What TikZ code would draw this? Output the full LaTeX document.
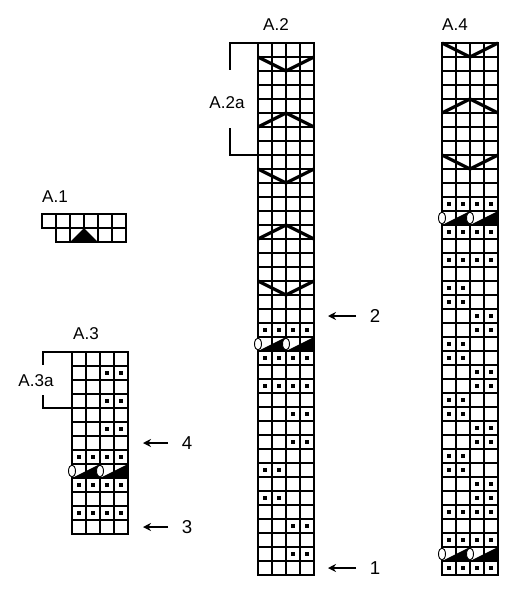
\documentclass[tikz,border=0pt]{standalone}
\usepackage{fontspec}
\setmainfont{Liberation Sans}
\usetikzlibrary{arrows.meta}

\tikzset{
    cell/.style={line width=0.8pt},
    frame/.style={line width=1pt},
    chev/.style={line width=2.4pt},
    yo/.style={draw, fill=white, line width=0.7pt},
    brace/.style={line width=1.3pt},
    chartname/.style={font=\fontsize{12.8}{14}\selectfont, inner sep=0pt, anchor=base},
    rownum/.style={font=\fontsize{14}{15}\selectfont, inner sep=0pt},
    rowarrow/.style={line width=1pt, -{Stealth[length=6pt,width=6pt,inset=2pt]}},
}

\newcommand{\kgrid}[2]{%
    \foreach \kc in {1,...,#1} {%
        \foreach \kr in {1,...,#2} {\draw[cell] (\kc-1,\kr-1) rectangle (\kc,\kr);}}
    \draw[frame] (0,0) rectangle (#1,#2);}
\newcommand{\kdots}[2]{%
    \foreach \kc in {#1} {\fill (\kc-0.5,#2-0.5) +(-0.15,-0.15) rectangle +(0.15,0.15);}}
\newcommand{\kyo}[1]{%
    \fill (0,#1) -- (2,#1-1) -- (2,#1) -- cycle;
    \fill (2,#1) -- (4,#1-1) -- (4,#1) -- cycle;
    \draw[yo] (0,#1-0.5) ellipse [x radius=2.6pt, y radius=4.5pt];
    \draw[yo] (2,#1-0.5) ellipse [x radius=2.6pt, y radius=4.5pt];}
\newcommand{\kvee}[1]{\draw[chev] (0,#1-1) -- (2,#1) -- (4,#1-1);}
\newcommand{\khat}[1]{\draw[chev] (0,#1) -- (2,#1-1) -- (4,#1);}

\begin{document}
\begin{tikzpicture}[x=0.75pt, y=-0.75pt]
                \useasboundingbox (0,0) rectangle (524,600);

                \node[chartname] (a1) at (55,202) {A.1};
                \foreach \kc in {0,...,5} {\draw[cell] (42+14*\kc,214) rectangle ++(14,14);}
                \foreach \kc in {1,...,5} {\draw[cell] (42+14*\kc,228) rectangle ++(14,14);}
                \fill (70,242) -- (84,228) -- (98,242) -- cycle;

                \node[chartname] (a3) at (86,339) {A.3};
                \begin{scope}[shift={(72,352)}, x=10.5pt, y=-10.5pt]
                    \kgrid{4}{13}
                    \foreach \kr in {2,4,6} {\kdots{3,4}{\kr}}
                    \foreach \kr in {8,10,12} {\kdots{1,2,3,4}{\kr}}
                    \kyo{9}
                \end{scope}
                \node[chartname, anchor=center] (a3a) at (36,381) {A.3a};
                \draw[brace] (72,352) -| (43,365);
                \draw[brace] (43,395) |- (72,408);

                \node[chartname] (a2) at (276,30) {A.2};
                \begin{scope}[shift={(258,43)}, x=10.5pt, y=-10.5pt]
                    \kgrid{4}{38}
                    \foreach \kr in {2,10,18} {\kvee{\kr}}
                    \foreach \kr in {6,14} {\khat{\kr}}
                    \foreach \kr in {21,23,25} {\kdots{1,2,3,4}{\kr}}
                    \foreach \kr in {27,29,35,37} {\kdots{3,4}{\kr}}
                    \foreach \kr in {31,33} {\kdots{1,2}{\kr}}
                    \kyo{22}
                \end{scope}
                \node[chartname, anchor=center] (a2a) at (227,103) {A.2a};
                \draw[brace] (258,43) -| (230,70);
                \draw[brace] (230,128) |- (258,155);

                \node[chartname] (a4) at (455,30) {A.4};
                \begin{scope}[shift={(442,43)}, x=10.5pt, y=-10.5pt]
                    \kgrid{4}{38}
                    \kvee{1}
                    \khat{5}
                    \kvee{9}
                    \foreach \kr in {12,14,16,34,36,38} {\kdots{1,2,3,4}{\kr}}
                    \foreach \kr in {18,19,22,23,26,27,30,31} {\kdots{1,2}{\kr}}
                    \foreach \kr in {20,21,24,25,28,29,32,33} {\kdots{3,4}{\kr}}
                    \kyo{13}
                    \kyo{37}
                \end{scope}

                \coordinate (t1) at (356,568);
                \coordinate (h1) at (328,568);
                \node[rownum] (n1) at (375,568) {1};
                \draw[rowarrow] (t1) -- (h1);
                \coordinate (t2) at (356,316);
                \coordinate (h2) at (328,316);
                \node[rownum] (n2) at (375,316) {2};
                \draw[rowarrow] (t2) -- (h2);
                \coordinate (t3) at (168,527);
                \coordinate (h3) at (143,527);
                \node[rownum] (n3) at (187,527) {3};
                \draw[rowarrow] (t3) -- (h3);
                \coordinate (t4) at (168,443);
                \coordinate (h4) at (143,443);
                \node[rownum] (n4) at (187,443) {4};
                \draw[rowarrow] (t4) -- (h4);
\end{tikzpicture}
\end{document}
